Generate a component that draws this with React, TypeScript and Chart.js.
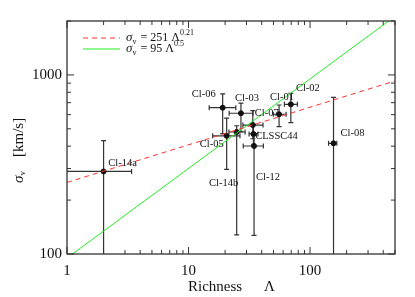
import React, { useEffect, useRef } from 'react';
import { Chart, registerables } from 'chart.js';
Chart.register(...registerables);

const names = ['Cl-14a', 'Cl-06', 'Cl-05', 'Cl-14b', 'Cl-03', 'Cl-07', 'CLSSC44', 'Cl-12', 'Cl-01', 'Cl-02', 'Cl-08'];
const richness = [2.0, 19.1, 20.6, 24.9, 27.0, 33.8, 34.2, 34.6, 55.6, 69.5, 156];
const richLo = [0.9, 14.8, 15.8, 21.5, 21.6, 28.0, 31.5, 28.2, 49.9, 61.5, 142];
const richHi = [3.4, 24.5, 26.5, 29.2, 33.9, 41.0, 37.3, 41.3, 63.5, 78.7, 166];
const sigma = [289, 656, 457, 480, 611, 525, 468, 401, 603, 685, 415];
const sigmaLo = [50, 470, 297, 128, 482, 440, 410, 127, 514, 541, 50];
const sigmaHi = [430, 783, 573, 520, 695, 631, 530, 460, 679, 790, 750];
// label offsets in px relative to the point (style)
const labelDx = [19, -19, -15, -13, 6, 14, 23, 14, 3, 17, 19];
const labelDy = [-8, -13, 8, 51, -15, -12, 2, 31, -17, -16, -10];

const fitNorm = [251, 95];
const fitExp = [0.21, 0.5];
const fitColors = ['#ff3030', '#22ee22'];
const xRange = [1, 500];
const yRange = [100, 2000];
const xTicks = [1, 10, 100];
const yTicks = [100, 1000];

const SERIF = '"Liberation Serif", "DejaVu Serif", serif';

function minorValues(min: number, max: number) {
  const out: { v: number; major: boolean }[] = [];
  for (let d = Math.floor(Math.log10(min)); d <= Math.ceil(Math.log10(max)); d++) {
    for (let k = 1; k <= 9; k++) {
      const v = k * Math.pow(10, d);
      if (v >= min * 0.9999 && v <= max * 1.0001) out.push({ v, major: k === 1 });
    }
  }
  return out;
}

const drawPlugin = {
  id: 'idlStyle',
  beforeDatasetsDraw(chart: any) {
    const { ctx, chartArea: a, scales } = chart;
    const xs = scales.x, ys = scales.y;
    ctx.save();
    ctx.beginPath();
    ctx.rect(a.left, a.top, a.right - a.left, a.bottom - a.top);
    ctx.clip();
    ctx.strokeStyle = '#333';
    ctx.lineWidth = 1.2;
    const cap = 2.5;
    for (let i = 0; i < names.length; i++) {
      const px = xs.getPixelForValue(richness[i]);
      const py = ys.getPixelForValue(sigma[i]);
      const x0 = xs.getPixelForValue(richLo[i]);
      const x1 = xs.getPixelForValue(richHi[i]);
      const y0 = ys.getPixelForValue(sigmaLo[i]);
      const y1 = ys.getPixelForValue(sigmaHi[i]);
      ctx.beginPath();
      ctx.moveTo(x0, py); ctx.lineTo(x1, py);
      ctx.moveTo(x0, py - cap); ctx.lineTo(x0, py + cap);
      ctx.moveTo(x1, py - cap); ctx.lineTo(x1, py + cap);
      ctx.moveTo(px, y0); ctx.lineTo(px, y1);
      ctx.moveTo(px - cap, y0); ctx.lineTo(px + cap, y0);
      ctx.moveTo(px - cap, y1); ctx.lineTo(px + cap, y1);
      ctx.stroke();
    }
    ctx.restore();
  },
  afterDatasetsDraw(chart: any) {
    const { ctx, chartArea: a, scales } = chart;
    const xs = scales.x, ys = scales.y;
    ctx.save();
    // point labels
    ctx.fillStyle = '#111';
    ctx.font = `10.5px ${SERIF}`;
    ctx.textAlign = 'center';
    ctx.textBaseline = 'middle';
    for (let i = 0; i < names.length; i++) {
      const px = xs.getPixelForValue(richness[i]);
      const py = ys.getPixelForValue(sigma[i]);
      ctx.fillText(names[i], px + labelDx[i], py + labelDy[i]);
    }
    // frame
    ctx.strokeStyle = '#333';
    ctx.lineWidth = 1.3;
    ctx.strokeRect(a.left, a.top, a.right - a.left, a.bottom - a.top);
    // ticks
    ctx.lineWidth = 1;
    ctx.beginPath();
    for (const t of minorValues(xRange[0], xRange[1])) {
      const x = xs.getPixelForValue(t.v);
      const len = t.major ? 7 : 4;
      ctx.moveTo(x, a.bottom); ctx.lineTo(x, a.bottom - len);
      ctx.moveTo(x, a.top); ctx.lineTo(x, a.top + len);
    }
    for (const t of minorValues(yRange[0], yRange[1])) {
      const y = ys.getPixelForValue(t.v);
      const len = t.major ? 7 : 4;
      ctx.moveTo(a.left, y); ctx.lineTo(a.left + len, y);
      ctx.moveTo(a.right, y); ctx.lineTo(a.right - len, y);
    }
    ctx.stroke();
    // legend
    const lx = a.left + 16;
    for (let j = 0; j < fitNorm.length; j++) {
      const ly = a.top + 17 + j * 11;
      ctx.strokeStyle = fitColors[j];
      ctx.setLineDash(j === 0 ? [5, 4] : []);
      ctx.beginPath();
      ctx.moveTo(lx, ly); ctx.lineTo(lx + 37, ly);
      ctx.stroke();
      ctx.setLineDash([]);
      ctx.fillStyle = '#111';
      ctx.textAlign = 'left';
      ctx.textBaseline = 'middle';
      let tx = lx + 43;
      ctx.font = `italic 13px ${SERIF}`;
      ctx.fillText('σ', tx, ly);
      tx += ctx.measureText('σ').width;
      ctx.font = `8px ${SERIF}`;
      ctx.fillText('v', tx, ly + 4);
      tx += ctx.measureText('v').width + 4;
      ctx.font = `12px ${SERIF}`;
      const s = `= ${fitNorm[j]} Λ`;
      ctx.fillText(s, tx, ly);
      tx += ctx.measureText(s).width;
      ctx.font = `8px ${SERIF}`;
      ctx.fillText(String(fitExp[j]), tx, ly - 5);
    }
    // axis titles
    ctx.fillStyle = '#111';
    ctx.font = `15px ${SERIF}`;
    ctx.textAlign = 'left';
    ctx.textBaseline = 'middle';
    ctx.fillText('Richness', 188, 287);
    ctx.fillText('Λ', 264, 287);
    ctx.translate(19, 183);
    ctx.rotate(-Math.PI / 2);
    ctx.font = `italic 15px ${SERIF}`;
    ctx.fillText('σ', 0, 0);
    let w = ctx.measureText('σ').width;
    ctx.font = `9px ${SERIF}`;
    ctx.fillText('v', w, 4);
    ctx.font = `15px ${SERIF}`;
    ctx.fillText('[km/s]', 26, 0);
    ctx.restore();
  },
};

export default function App() {
  const ref = useRef<HTMLCanvasElement>(null);
  useEffect(() => {
    if (!ref.current) return;
    const fitSets = fitNorm.map((n, j) => ({
      type: 'line' as const,
      data: xRange.map((x) => ({ x, y: n * Math.pow(x, fitExp[j]) })),
      borderColor: fitColors[j],
      borderWidth: 1,
      borderDash: j === 0 ? [5, 4] : [],
      pointRadius: 0,
      fill: false,
    }));
    const chart = new Chart(ref.current, {
      type: 'scatter',
      data: {
        datasets: [
          ...fitSets,
          {
            type: 'scatter' as const,
            data: richness.map((x, i) => ({ x, y: sigma[i] })),
            pointRadius: 2.5,
            pointBorderWidth: 1,
            pointBackgroundColor: '#111',
            pointBorderColor: '#111',
          },
        ] as any,
      },
      options: {
        animation: false,
        responsive: false,
        events: [],
        layout: { padding: { top: 21, right: 20, left: 0, bottom: 0 } },
        plugins: { legend: { display: false }, tooltip: { enabled: false } },
        scales: {
          x: {
            type: 'logarithmic',
            min: xRange[0],
            max: xRange[1],
            grid: { display: false, drawTicks: false },
            border: { display: false },
            afterBuildTicks: (s: any) => { s.ticks = xTicks.map((v) => ({ value: v })); },
            afterFit: (s: any) => { s.height = 43; },
            ticks: {
              autoSkip: false,
              maxRotation: 0,
              padding: 8,
              color: '#111',
              font: { family: SERIF, size: 15 },
              callback: (v: any) => String(v),
            },
          },
          y: {
            type: 'logarithmic',
            min: yRange[0],
            max: yRange[1],
            grid: { display: false, drawTicks: false },
            border: { display: false },
            afterBuildTicks: (s: any) => { s.ticks = yTicks.map((v) => ({ value: v })); },
            afterFit: (s: any) => { s.width = 67; },
            ticks: {
              autoSkip: false,
              padding: 5,
              color: '#111',
              font: { family: SERIF, size: 15 },
              callback: (v: any) => String(v),
            },
          },
        },
      },
      plugins: [drawPlugin],
    });
    return () => chart.destroy();
  }, []);
  return (
    <div style={{ position: 'fixed', left: 0, top: 0, width: 415, height: 297, background: '#fff' }}>
      <canvas ref={ref} width={415} height={297} style={{ width: 415, height: 297 }} />
    </div>
  );
}
